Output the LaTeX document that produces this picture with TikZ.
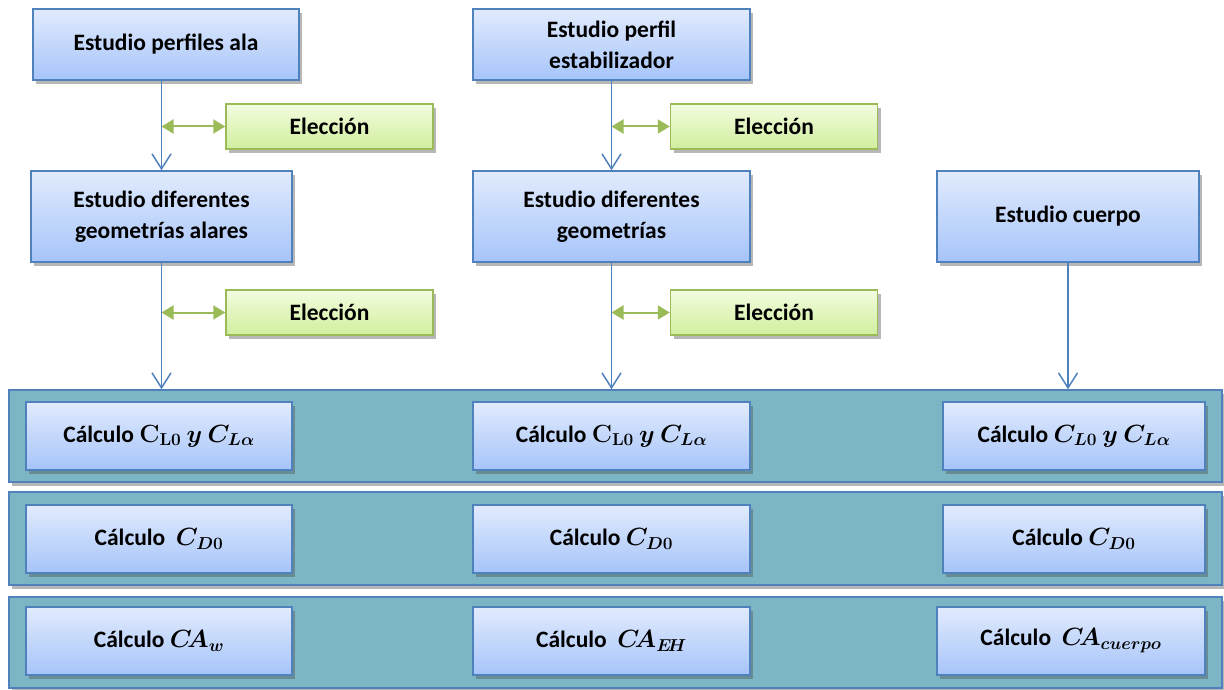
\documentclass[tikz,border=0pt]{standalone}
\usepackage{amsmath,amssymb,bm}
\usepackage{fontspec}
\setmainfont{Carlito}
\usetikzlibrary{arrows.meta,shadows,positioning}

\definecolor{boxtop}{RGB}{225,235,253}
\definecolor{boxbot}{RGB}{166,196,250}
\definecolor{boxline}{RGB}{79,129,189}
\definecolor{greentop}{RGB}{243,252,224}
\definecolor{greenbot}{RGB}{208,239,156}
\definecolor{greenline}{RGB}{155,187,89}
\definecolor{bandfill}{RGB}{124,181,196}

\tikzset{
  shade/.style={drop shadow={shadow xshift=3pt,shadow yshift=-4pt,opacity=0.4,fill=black!70}},
  stage/.style={draw=boxline, line width=1.5pt, top color=boxtop, bottom color=boxbot,
    align=center, font=\fontsize{23.5}{31}\selectfont\bfseries\boldmath, shade},
  choice/.style={draw=greenline, line width=1.5pt, top color=greentop, bottom color=greenbot,
    minimum width=207, minimum height=45, font=\fontsize{23.5}{31}\selectfont\bfseries, shade},
  band/.style={draw=boxline, line width=1.5pt, fill=bandfill, minimum width=1213, shade},
  calc/.style={stage, minimum height=68},
  flow/.style={-{Straight Barb[length=15pt,width=19pt]}, boxline, line width=1.5pt},
  pick/.style={{Triangle[length=12pt,width=14pt]}-{Triangle[length=12pt,width=14pt]}, greenline, line width=2pt},
}

\begin{document}
\begin{tikzpicture}[x=1pt,y=-1pt]
  \useasboundingbox (0,0) rectangle (1224,690);

  % upper part
  \node[stage, minimum width=266, minimum height=71] (ala) at (166,44.5) {Estudio perfiles ala};
  \node[stage, minimum width=277, minimum height=71] (estab) at (611.5,44.5) {Estudio perfil\\estabilizador};
  \node[stage, minimum width=261, minimum height=91] (geoala) at (161.5,216.5) {Estudio diferentes\\geometrías alares};
  \node[stage, minimum width=277, minimum height=91] (geoest) at (611.5,216.5) {Estudio diferentes\\geometrías};
  \node[stage, minimum width=262, minimum height=91] (cuerpo) at (1068,216.5) {Estudio cuerpo};

  \node[choice] (eleA1) at (329.5,126.5) {Elección};
  \node[choice] (eleB1) at (774,126.5) {Elección};
  \node[choice] (eleA2) at (329.5,312.5) {Elección};
  \node[choice] (eleB2) at (774,312.5) {Elección};

  % bands
  \node[band, minimum height=92] (band1) at (615.5,436) {};
  \node[band, minimum height=93] (band2) at (615.5,538.5) {};
  \node[band, minimum height=91] (band3) at (615.5,642.5) {};

  \node[calc, minimum width=266] (clA) at (159,436) {Cálculo $\mathbf{C}_{\mathbf{L0}}$ $\bm{y}$ $\bm{C_{L\alpha}}$};
  \node[calc, minimum width=277] (clB) at (611.5,436) {Cálculo $\mathbf{C}_{\mathbf{L0}}$ $\bm{y}$ $\bm{C_{L\alpha}}$};
  \node[calc, minimum width=262] (clC) at (1074,436) {Cálculo $\bm{C_{L0}\ y\ C_{L\alpha}}$};

  \node[calc, minimum width=266] (cdA) at (159,539) {Cálculo \ $\bm{C_{D0}}$};
  \node[calc, minimum width=277] (cdB) at (611.5,539) {Cálculo $\bm{C_{D0}}$};
  \node[calc, minimum width=262] (cdC) at (1074,539) {Cálculo $\bm{C_{D0}}$};

  \node[calc, minimum width=266] (caA) at (159,641) {Cálculo $\bm{C\!A_{w}}$};
  \node[calc, minimum width=277] (caB) at (611.5,641) {Cálculo \ $\bm{C\!A_{E\!H}}$};
  \node[calc, minimum width=268] (caC) at (1071,641) {Cálculo \ $\bm{C\!A_{cuerpo}}$};

  % connectors
  \draw[flow] (geoala.north |- ala.south) -- (geoala.north);
  \draw[flow] (geoest.north |- estab.south) -- (geoest.north);
  \draw[flow] (geoala.south) -- (geoala.south |- band1.north);
  \draw[flow] (geoest.south) -- (geoest.south |- band1.north);
  \draw[flow] (cuerpo.south) -- (cuerpo.south |- band1.north);

  \draw[pick] (eleA1.west -| geoala.north) -- (eleA1.west);
  \draw[pick] (eleB1.west -| geoest.north) -- (eleB1.west);
  \draw[pick] (eleA2.west -| geoala.north) -- (eleA2.west);
  \draw[pick] (eleB2.west -| geoest.north) -- (eleB2.west);
\end{tikzpicture}
\end{document}
